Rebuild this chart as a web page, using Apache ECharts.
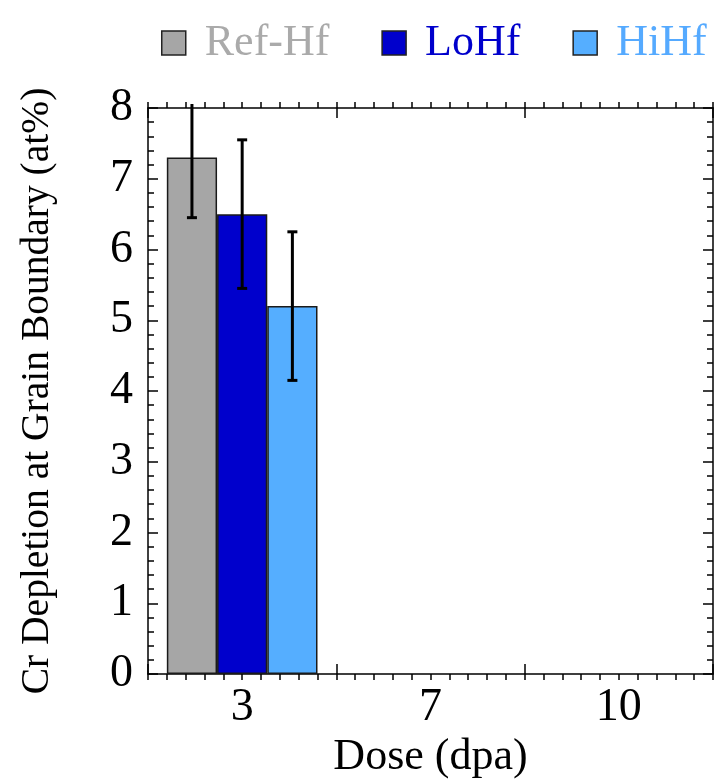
<!DOCTYPE html>
<html>
<head>
<meta charset="utf-8">
<script src="https://cdn.jsdelivr.net/npm/echarts@6/dist/echarts.min.js"></script>
<style>
  html, body { margin: 0; padding: 0; background: #ffffff; }
  #chart { width: 715px; height: 780px; }
</style>
</head>
<body>
<div id="chart"></div>
<script>
// ---- data ----
const categories = ['3', '7', '10'];
const seriesNames = ['Ref-Hf', 'LoHf', 'HiHf'];
const refValues = [7.3, '-', '-'];
const loValues = [6.5, '-', '-'];
const hiValues = [5.2, '-', '-'];
const refErrors = [0.85, '-', '-'];
const loErrors = [1.05, '-', '-'];
const hiErrors = [1.05, '-', '-'];
const yMin = 0;
const yMax = 8;
const yInterval = 1;

// ---- styles ----
const FONT = "'Liberation Serif', 'Times New Roman', serif";
const colors = ['#a6a6a6', '#0000cc', '#55aeff'];
const legendTextColors = ['#aaaaaa', '#0000cc', '#55aaff'];
const BAR_CAT_GAP = 0.2;

const chart = echarts.init(document.getElementById('chart'), null, { renderer: 'canvas' });

const valuesList = [refValues, loValues, hiValues];
const errorsList = [refErrors, loErrors, hiErrors];

function errData(vals, errs) {
  const out = [];
  for (let i = 0; i < categories.length; i++) {
    if (typeof vals[i] === 'number' && typeof errs[i] === 'number') {
      out.push([i, vals[i], errs[i]]);
    }
  }
  return out;
}

function makeErrRender(seriesIdx) {
  return function (params, api) {
    const idx = api.value(0);
    const v = api.value(1);
    const e = api.value(2);
    const band = api.size([1, 0])[0];
    const barW = band * (1 - BAR_CAT_GAP) / seriesNames.length;
    const offset = (seriesIdx - (seriesNames.length - 1) / 2) * barW;
    const hiV = Math.min(v + e, yMax);
    const loV = Math.max(v - e, yMin);
    const pTop = api.coord([idx, hiV]);
    const pBot = api.coord([idx, loV]);
    const x = pTop[0] + offset;
    const capHalf = 5;
    const style = { stroke: '#000000', lineWidth: 3 };
    const children = [
      { type: 'line', shape: { x1: x, y1: pTop[1] - (v + e > yMax ? 4 : 0), x2: x, y2: pBot[1] }, style: style }
    ];
    if (v + e <= yMax) {
      children.push({ type: 'line', shape: { x1: x - capHalf, y1: pTop[1], x2: x + capHalf, y2: pTop[1] }, style: style });
    }
    if (v - e >= yMin) {
      children.push({ type: 'line', shape: { x1: x - capHalf, y1: pBot[1], x2: x + capHalf, y2: pBot[1] }, style: style });
    }
    return { type: 'group', children: children };
  };
}

const axisLineStyle = { color: '#000000', width: 1.5 };

const series = [];
seriesNames.forEach(function (name, i) {
  series.push({
    name: name,
    type: 'bar',
    xAxisIndex: 0,
    yAxisIndex: 0,
    data: valuesList[i],
    barGap: '0%',
    barCategoryGap: '20%',
    itemStyle: { color: colors[i], borderColor: '#1a1a1a', borderWidth: 1.5 },
    z: 2
  });
});
seriesNames.forEach(function (name, i) {
  series.push({
    name: name + ' error',
    type: 'custom',
    xAxisIndex: 0,
    yAxisIndex: 0,
    data: errData(valuesList[i], errorsList[i]),
    renderItem: makeErrRender(i),
    clip: false,
    z: 5,
    silent: true
  });
});

const option = {
  animation: false,
  backgroundColor: '#ffffff',
  legend: {
    data: seriesNames.map(function (n, i) {
      return { name: n, textStyle: { color: legendTextColors[i] } };
    }),
    left: 156,
    top: 16,
    icon: 'rect',
    itemWidth: 24,
    itemHeight: 24,
    itemGap: 52,
    itemStyle: { borderColor: '#222222', borderWidth: 1.5 },
    textStyle: { fontFamily: FONT, fontSize: 44, padding: [0, 0, 0, 14] },
    selectedMode: false
  },
  grid: { left: 148, right: 2, top: 108, bottom: 106, containLabel: false, outerBoundsMode: 'none' },
  xAxis: [
    {
      type: 'category',
      position: 'bottom',
      data: categories,
      boundaryGap: true,
      name: 'Dose (dpa)',
      nameLocation: 'middle',
      nameGap: 56,
      nameTextStyle: { fontFamily: FONT, fontSize: 44, color: '#000000' },
      axisLine: { show: true, onZero: false, lineStyle: axisLineStyle },
      axisTick: { show: true, inside: true, length: 10, lineStyle: { color: '#000', width: 1.5 } },
      axisLabel: { show: true, margin: 11, fontFamily: FONT, fontSize: 46, color: '#000000' },
      splitLine: { show: false }
    },
    {
      type: 'category',
      position: 'top',
      data: categories,
      boundaryGap: true,
      axisLine: { show: true, onZero: false, lineStyle: axisLineStyle },
      axisTick: { show: true, inside: true, length: 10, lineStyle: { color: '#000', width: 1.5 } },
      axisLabel: { show: false },
      splitLine: { show: false }
    },
    {
      type: 'value',
      position: 'bottom',
      min: 0,
      max: categories.length * 10,
      interval: 1,
      axisLine: { show: false, onZero: false },
      axisTick: { show: true, inside: false, length: 6, lineStyle: { color: '#000', width: 1.5 } },
      axisLabel: { show: false },
      splitLine: { show: false }
    },
    {
      type: 'value',
      position: 'top',
      min: 0,
      max: categories.length * 10,
      interval: 1,
      axisLine: { show: false, onZero: false },
      axisTick: { show: true, inside: false, length: 6, lineStyle: { color: '#000', width: 1.5 } },
      axisLabel: { show: false },
      splitLine: { show: false }
    }
  ],
  yAxis: [
    {
      type: 'value',
      position: 'left',
      min: yMin,
      max: yMax,
      interval: yInterval,
      name: 'Cr Depletion at Grain Boundary (at%)',
      nameLocation: 'middle',
      nameGap: 90,
      nameTextStyle: { fontFamily: FONT, fontSize: 39.5, color: '#000000' },
      axisLine: { show: true, onZero: false, lineStyle: axisLineStyle },
      axisTick: { show: true, inside: true, length: 10, lineStyle: { color: '#000', width: 1.5 } },
      minorTick: { show: true, splitNumber: 5, length: 6, lineStyle: { color: '#000', width: 1.5 } },
      axisLabel: { show: true, margin: 15, fontFamily: FONT, fontSize: 46, color: '#000000' },
      splitLine: { show: false },
      minorSplitLine: { show: false }
    },
    {
      type: 'value',
      position: 'right',
      min: yMin,
      max: yMax,
      interval: yInterval,
      axisLine: { show: true, onZero: false, lineStyle: axisLineStyle },
      axisTick: { show: true, inside: true, length: 10, lineStyle: { color: '#000', width: 1.5 } },
      minorTick: { show: true, splitNumber: 5, length: 6, lineStyle: { color: '#000', width: 1.5 } },
      axisLabel: { show: false },
      splitLine: { show: false },
      minorSplitLine: { show: false }
    }
  ],
  series: series
};

chart.setOption(option);
</script>
</body>
</html>
